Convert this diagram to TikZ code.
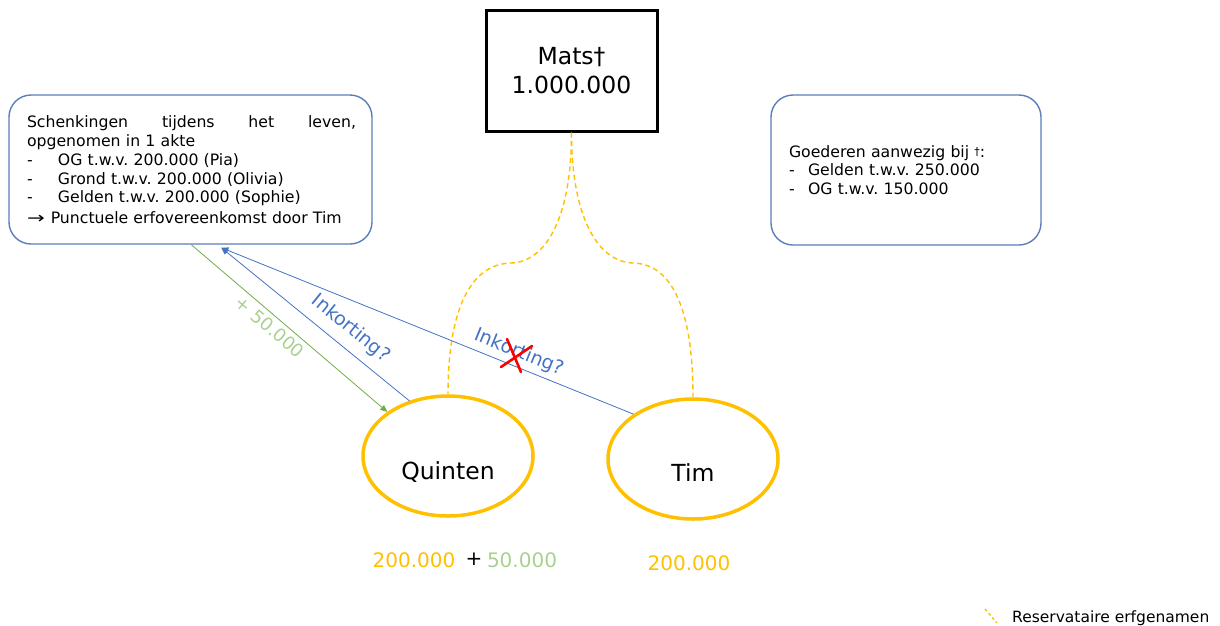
\documentclass[tikz,border=0pt]{standalone}
\usepackage{fontspec}
\setmainfont{DejaVu Sans}
\usetikzlibrary{arrows.meta,shapes.geometric,calc}
\definecolor{heir}{HTML}{FFC000}
\definecolor{frame}{HTML}{5B7DB8}
\definecolor{cut}{HTML}{4472C4}
\definecolor{plus}{HTML}{70AD47}
\definecolor{plustext}{HTML}{A9D18E}
\newcommand{\fs}[2]{\fontsize{#1}{#2}\selectfont}
\newcommand{\dashitem}[1]{\makebox[#1][l]{-}}
\frenchspacing
\begin{document}
\begin{tikzpicture}[x=1pt,y=-1pt,
  infobox/.style={draw=frame, line width=1.4pt, rounded corners=22pt, inner sep=0pt, font=\fs{15.7}{18.8}},
  testator/.style={draw=black, line width=3pt, minimum width=171pt, minimum height=121pt, inner sep=0pt, align=center, font=\fs{23.5}{29}},
  heirnode/.style={ellipse, draw=heir, line width=3.5pt, minimum width=170pt, minimum height=120pt, inner sep=0pt, font=\fs{23.5}{26}},
  heirline/.style={draw=heir, line width=1.4pt, dash pattern=on 5pt off 3.5pt},
  cutline/.style={draw=cut, line width=0.8pt, -{Triangle[length=7pt,width=6pt]}},
  addline/.style={draw=plus, line width=0.8pt, -{Triangle[length=7pt,width=6pt]}},
  cutlabel/.style={text=cut, font=\fs{19}{22}, sloped},
  share/.style={font=\fs{20}{24}, inner sep=0pt}
]
\useasboundingbox (0,0) rectangle (1220,625);

% people and estate
\node[testator] (mats) at (571.5,70.5) {Mats†\\1.000.000};
\node[heirnode] (quinten) at (448,456) {\raisebox{-23pt}[0pt][0pt]{Quinten}};
\node[heirnode] (tim) at (693,459) {\raisebox{-22pt}[0pt][0pt]{Tim}};

% information boxes
\node[infobox, minimum width=363pt, minimum height=149pt, text width=331pt] (gifts) at (190.5,169.5)
  {\hspace*{2pt}Schenkingen\hfill tijdens\hfill het\hfill leven,\\
   \hspace*{2pt}opgenomen in 1 akte\\
   \hspace*{2pt}\dashitem{31pt}OG t.w.v. 200.000 (Pia)\\
   \hspace*{2pt}\dashitem{31pt}Grond t.w.v. 200.000 (Olivia)\\
   \hspace*{2pt}\dashitem{31pt}Gelden t.w.v. 200.000 (Sophie)\\[1.5pt]
   \hspace*{2pt}\scalebox{1.35}[1]{→}\hspace{6pt}Punctuele erfovereenkomst door Tim};
\node[infobox, minimum width=270pt, minimum height=150pt, text width=234pt, align=left] (estate) at (906,170)
  {Goederen aanwezig bij \raisebox{1.5pt}{\fs{11}{12}†}:\\
   \dashitem{19pt}Gelden t.w.v. 250.000\\
   \dashitem{19pt}OG t.w.v. 150.000};

% reserved heirs
\coordinate (bendL) at (511,263);
\coordinate (bendR) at (633,263);
\draw[heirline] (mats.south) .. controls +(0,85) and +(35,-1) .. (bendL)
  .. controls +(-40,1) and +(0,-86) .. (quinten.north);
\draw[heirline] (mats.south) .. controls +(0,85) and +(-35,-1) .. (bendR)
  .. controls +(40,1) and +(0,-86) .. (tim.north);

% gifts and reductions
\coordinate (giftOut) at ([xshift=183pt]gifts.south west);
\coordinate (giftIn) at ([xshift=213pt,yshift=-3pt]gifts.south west);
\draw[addline] (giftOut) -- node[pos=0.44, sloped, below=1pt, text=plustext, font=\fs{18}{20}] {+ 50.000} (quinten.144);
\draw[cutline] (quinten.125) -- node[pos=0.375, cutlabel, above=6pt] {Inkorting?} (giftIn);
\draw[cutline] (tim.143) -- node[pos=0.29, cutlabel, above=1.5pt] {Inkorting?} (giftIn);

% struck-out reduction
\coordinate (veto) at (516,355);
\draw[red, line width=2.6pt, line cap=round] ($(veto)+(-9,-16)$) -- ($(veto)+(5,17)$);
\draw[red, line width=2.6pt, line cap=round] ($(veto)+(16,-9)$) -- ($(veto)+(-15,12)$);

% resulting shares
\node[share, text=heir] (qbase) at (414,560) {200.000};
\node[share] (qplus) at (474,559) {+};
\node[share, text=plustext] (qextra) at (522,560) {50.000};
\node[share, text=heir] (tshare) at (689,563) {200.000};

% legend
\coordinate (keyA) at (985,609);
\coordinate (keyB) at (997,623);
\draw[draw=heir, line width=1.4pt, dash pattern=on 3pt off 2.5pt] (keyA) -- (keyB);
\node[anchor=west, font=\fs{15.5}{17}, inner sep=0pt] (keytext) at (1012,618) {Reservataire erfgenamen};
\end{tikzpicture}
\end{document}
